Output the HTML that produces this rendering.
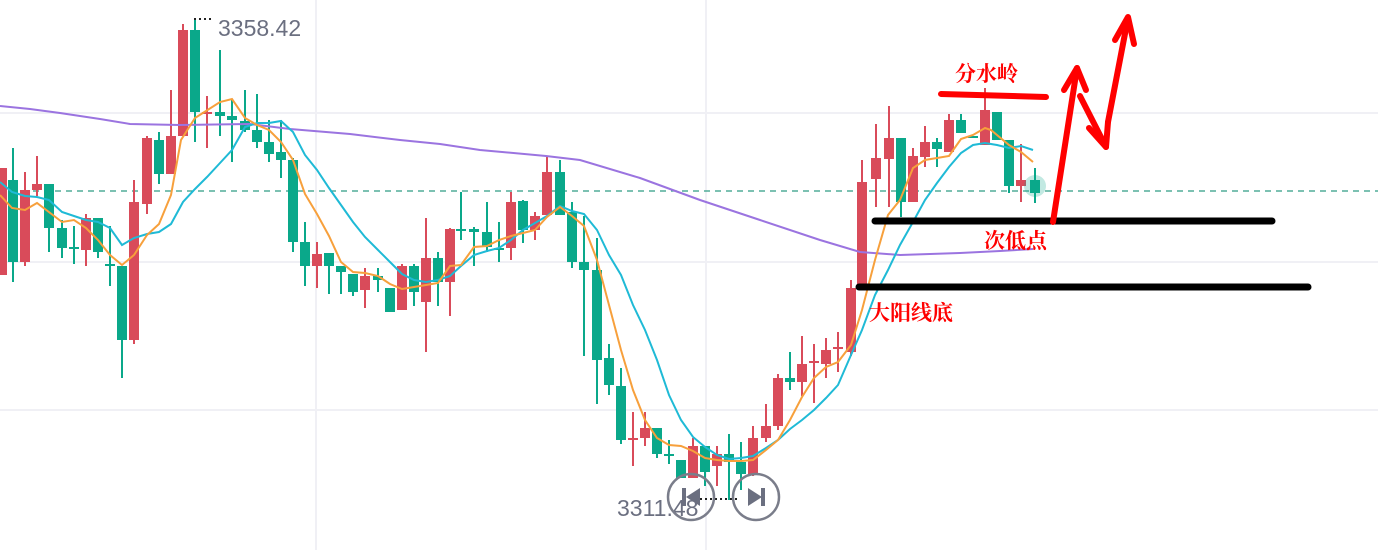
<!DOCTYPE html>
<html><head><meta charset="utf-8"><style>
html,body{margin:0;padding:0;background:#fff;width:1378px;height:550px;overflow:hidden}
svg{display:block}
</style></head><body>
<svg id="s" width="1378" height="550" viewBox="0 0 1378 550" xmlns="http://www.w3.org/2000/svg">
<rect width="1378" height="550" fill="#fff"/>
<g stroke="#f0f0f5" stroke-width="2">
<line x1="0" y1="113" x2="1378" y2="113"/><line x1="0" y1="262" x2="1378" y2="262"/><line x1="0" y1="410" x2="1378" y2="410"/>
<line x1="316" y1="0" x2="316" y2="550"/><line x1="706" y1="0" x2="706" y2="550"/>
</g>
<line x1="0" y1="191" x2="1378" y2="191" stroke="#2e9c84" stroke-width="1.3" stroke-dasharray="6,5"/>
<g id="c"></g>
<polyline fill="none" stroke="#9b74e0" stroke-width="2" points="0,106 30,109 60,113 100,119 130,124 180,125 250,124 290,129 350,134 400,140 440,144 480,150 546,156 580,160 640,178 700,200 760,220 820,240 860,252 900,255 960,253 1000,251 1033,249"/>
<polyline fill="none" stroke="#1fbad6" stroke-width="2" points="0,182 12,192 25,196 37,197 49,200 62,212 74,216 86,220 98,222 110,228 122,245 134,238 147,234 159,232 171,224 183,202 195,189 207,177 220,163 232,150 245,127 257,123 269,123 281,121 293,132 305,155 317,170 329,188 341,205 353,222 365,237 378,250 390,262 402,274 414,280 426,282 438,280 450,276 461,266 474,255 487,251 499,248 511,240 523,230 535,223 547,216 560,206 572,211 584,214 597,230 609,255 621,275 633,305 645,330 657,360 669,395 681,420 693,437 705,447 717,455 729,459 741,458 753,456 766,448 778,440 790,429 802,420 814,410 826,398 838,385 851,355 862,330 875,295 888,270 900,245 913,222 925,200 937,183 949,167 961,153 973,145 985,143 997,145 1009,148 1021,146 1033,150"/>
<polyline fill="none" stroke="#f7a03c" stroke-width="2" points="0,195 12,208 25,210 37,203 62,222 74,220 86,228 98,240 110,255 122,265 134,255 147,235 159,224 171,195 181,140 195,118 220,102 232,99 245,118 257,125 269,130 281,142 293,160 305,194 317,214 329,236 341,262 353,272 365,273 378,276 390,284 402,289 414,287 426,285 438,283 450,266 461,265 474,247 487,246 499,240 511,236 523,233 535,230 547,217 560,207 572,216 584,226 597,260 609,305 621,350 633,390 645,420 657,438 669,445 681,446 693,451 705,458 717,460 729,461 741,461 753,460 766,450 778,440 790,420 802,397 814,378 826,367 838,362 851,345 862,310 875,260 888,215 900,200 913,168 925,160 937,158 949,156 961,139 973,135 985,128 991,130 1009,145 1021,152 1033,162"/>
<circle cx="1035" cy="186" r="11" fill="#0aa88a" opacity="0.25"/>
<line x1="194" y1="19" x2="214" y2="19" stroke="#222" stroke-width="2" stroke-dasharray="2,3"/>
<text x="218" y="36" font-family="Liberation Sans, sans-serif" font-size="23" fill="#6b6f80">3358.42</text>
<line x1="700" y1="499" x2="738" y2="499" stroke="#222" stroke-width="2" stroke-dasharray="2,3"/>
<text x="617" y="516" font-family="Liberation Sans, sans-serif" font-size="23" fill="#6b6f80">3311.48</text>
<g fill="none" stroke="#7a7d8a" stroke-width="2.5"><circle cx="691" cy="497" r="23"/><circle cx="756" cy="497" r="23"/></g>
<g fill="#6b6f80"><rect x="682" y="488" width="4" height="18"/><polygon points="700,488 700,506 686,497"/><rect x="761" y="488" width="4" height="18"/><polygon points="748,488 748,506 762,497"/></g>
<g stroke="#000" stroke-width="7" stroke-linecap="round"><line x1="875" y1="221" x2="1272" y2="221"/><line x1="859" y1="287" x2="1308" y2="287"/></g>
<g stroke="#f00" stroke-width="6" stroke-linecap="round" stroke-linejoin="round" fill="none">
<line x1="941" y1="94" x2="1046" y2="97"/>
<polyline points="1053,222 1077,68"/><polyline points="1064,90 1077,68 1086,90"/>
<polyline points="1080,96 1106,147"/><polyline points="1089,128 1106,147 1108,122"/>
<polyline points="1108,122 1128,18"/><polyline points="1115,40 1128,17 1134,44"/>
</g>
<g font-family="Liberation Serif, 'Noto Serif CJK SC', serif" font-size="21" font-weight="bold" fill="#f00">
<text x="955" y="81">分水岭</text><text x="984" y="248">次低点</text><text x="869" y="320">大阳线底</text></g>
</svg>
<script>
var d=[[2,'r',168,275,168,275],[13,'g',180,262,148,282],[25,'r',190,262,172,266],[37,'r',184,190,156,196],[49,'g',184,228,184,252],[62,'g',228,248,220,258],[74,'g',247,249,226,264],[86,'r',218,250,214,266],[98,'g',218,252,218,258],[110,'g',264,266,226,286],[122,'g',266,340,266,378],[134,'r',202,340,180,344],[147,'r',138,204,136,214],[159,'g',140,174,132,184],[171,'r',136,174,90,174],[183,'r',30,136,24,136],[195,'g',30,112,20,142],[207,'r',112,114,96,148],[220,'g',112,116,50,136],[232,'g',116,120,100,162],[245,'g',121,130,90,132],[257,'g',130,142,94,148],[269,'g',142,154,120,162],[281,'g',152,160,120,178],[293,'g',160,242,158,252],[305,'g',242,266,222,286],[317,'r',254,266,242,288],[329,'g',253,266,253,294],[341,'g',266,272,266,294],[353,'g',274,292,274,296],[365,'r',276,290,268,308],[378,'g',276,280,268,292],[390,'g',288,312,288,312],[402,'r',266,310,264,310],[414,'g',266,292,264,306],[426,'r',258,302,218,352],[438,'g',258,282,252,306],[450,'r',229,282,228,316],[461,'g',229,231,192,240],[474,'g',229,232,227,266],[487,'g',232,247,202,252],[499,'g',248,250,222,262],[511,'r',202,248,192,260],[523,'g',201,230,200,243],[535,'r',216,230,212,240],[547,'r',172,215,156,215],[560,'g',172,215,160,215],[572,'g',212,262,202,268],[584,'g',262,270,216,356],[597,'g',270,360,238,404],[609,'g',358,385,344,395],[621,'g',386,440,368,444],[633,'r',438,440,412,466],[645,'r',428,438,412,446],[657,'g',428,454,428,458],[669,'g',454,456,440,464],[681,'g',460,478,460,478],[693,'r',446,478,438,478],[705,'g',446,472,446,486],[717,'r',454,466,446,486],[729,'g',454,462,434,500],[741,'g',462,474,442,490],[753,'r',438,474,426,476],[766,'r',426,438,404,442],[778,'r',378,426,374,430],[790,'g',378,382,352,390],[802,'r',364,382,336,396],[814,'r',361,363,344,403],[826,'r',350,364,338,378],[838,'r',347,349,332,372],[851,'r',288,352,280,356],[862,'r',182,288,160,290],[876,'r',158,179,124,207],[889,'r',138,159,106,207],[901,'g',138,202,138,217],[913,'r',156,202,148,202],[925,'r',142,157,126,167],[937,'g',142,149,138,167],[949,'r',120,152,114,152],[961,'g',120,133,114,133],[973,'g',136,138,136,138],[985,'r',110,145,88,145],[997,'g',112,140,112,140],[1009,'g',140,186,140,193],[1021,'r',180,186,144,202],[1035,'g',180,193,168,203]];
var s='';d.forEach(function(c){var col=c[1]=='r'?'#d94b5a':'#0aa88a';s+='<line x1="'+c[0]+'" x2="'+c[0]+'" y1="'+c[4]+'" y2="'+c[5]+'" stroke="'+col+'" stroke-width="2"/>';var h=Math.max(2,c[3]-c[2]);s+='<rect x="'+(c[0]-5)+'" y="'+c[2]+'" width="10" height="'+h+'" fill="'+col+'"/>';});
document.getElementById('c').innerHTML=s;
</script>
</body></html>
